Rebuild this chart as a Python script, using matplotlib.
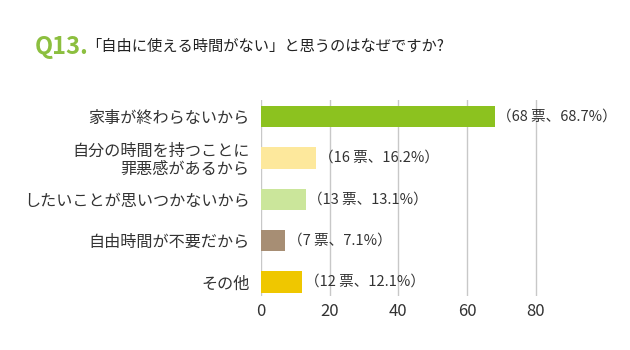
import matplotlib
matplotlib.use("Agg")
import matplotlib.pyplot as plt

plt.rcParams['font.family'] = ['Noto Sans CJK JP', 'DejaVu Sans']

# survey answers, top to bottom
categories = ['家事が終わらないから', '自分の時間を持つことに\n罪悪感があるから',
              'したいことが思いつかないから', '自由時間が不要だから', 'その他']
votes = [68, 16, 13, 7, 12]
percents = [68.7, 16.2, 13.1, 7.1, 12.1]
colors = ['#8cc21f', '#fde89c', '#cbe69b', '#a78e74', '#efc700']
xticks = [0, 20, 40, 60, 80]

fig = plt.figure(figsize=(6.3, 3.5), dpi=100)
fig.patch.set_facecolor('white')

fig.text(0.055, 0.866, 'Q13.', color='#8cbf3f', fontsize=17, fontweight='bold',
         va='center', ha='left')
fig.text(0.137, 0.868, '「自由に使える時間がない」と思うのはなぜですか?', color='#222222',
         fontsize=11, va='center', ha='left')

ax = fig.add_axes([0.414, 0.154, 0.546, 0.56])
ypos = list(range(len(categories)))
ax.barh(ypos, votes, height=0.52, color=colors, zorder=3)

for y, v, p in zip(ypos, votes, percents):
    ax.text(v + 0.8, y, f'（{v} 票、{p}%）', va='center', ha='left',
            fontsize=10.5, color='#333333', zorder=4)

ax.set_xlim(0, 100)
ax.set_ylim(len(categories) - 1 + 0.34, -0.4)
ax.set_xticks(xticks)
ax.set_yticks(ypos)
ax.set_yticklabels(categories, fontsize=11.6, color='#333333', linespacing=1.05)
ax.tick_params(axis='x', labelsize=12, colors='#333333', length=0, pad=5)
ax.tick_params(axis='y', length=0, pad=8)
for lab in ax.get_yticklabels():
    lab.set_horizontalalignment('right')

ax.grid(axis='x', color='#c8c8c8', linewidth=1, zorder=0)
ax.grid(axis='y', visible=False)
for s in ax.spines.values():
    s.set_visible(False)

fig.savefig('out.png', dpi=100, facecolor='white')
